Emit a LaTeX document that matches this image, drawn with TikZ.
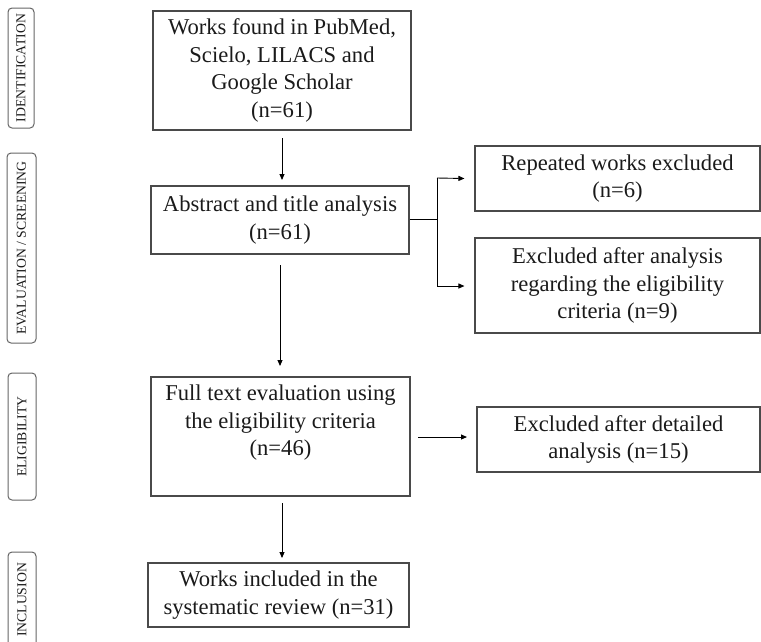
\documentclass[tikz,border=0pt]{standalone}
\usepackage{fontspec}
\setmainfont{Liberation Serif}
\usetikzlibrary{arrows.meta,calc}
\definecolor{boxline}{HTML}{4A4A4A}
\definecolor{txt}{HTML}{1A1A1A}
\tikzset{
  x=1pt,y=-1pt,
  flowbox/.style={draw=boxline,line width=1.1pt,rectangle,inner sep=0pt,align=center,
    text=txt,font=\fontsize{22.6}{27.5}\selectfont},
  plain/.style={inner sep=0pt,align=center,text=txt,font=\fontsize{22.6}{27.5}\selectfont},
  phasebox/.style={draw=boxline!85,line width=1pt,rounded corners=4pt,rectangle,inner sep=0pt},
  phasetext/.style={rotate=90,inner sep=0pt,text=txt,font=\fontsize{13.7}{15}\selectfont},
  conn/.style={draw=black,line width=0.9pt},
  arr/.style={conn,-{Triangle[length=6pt,width=5pt]}}
}
\begin{document}
\begin{tikzpicture}
\useasboundingbox (0,0) rectangle (761,641);
% phase labels
\node[phasebox,minimum width=26,minimum height=120] (p1) at (21,68) {};
\node[phasetext] (t1) at (p1.center) {IDENTIFICATION};
\node[phasebox,minimum width=29,minimum height=190] (p2) at (21.5,248) {};
\node[phasetext] (t2) at (p2.center) {EVALUATION / SCREENING};
\node[phasebox,minimum width=28,minimum height=127] (p3) at (22,436.5) {};
\node[phasetext] (t3) at (p3.center) {ELIGIBILITY};
\node[phasebox,minimum width=28,minimum height=110] (p4) at (22,607) {};
\node[phasetext] (t4) at (22,600) {INCLUSION};
% main boxes
\node[flowbox,minimum width=258,minimum height=119] (b1) at (282,70.5)
  {Works found in PubMed,\\Scielo, LILACS and\\Google Scholar\\(n=61)};
\node[flowbox,minimum width=258,minimum height=68] (b2) at (280,220)
  {Abstract and title analysis\\(n=61)};
\node[flowbox,minimum width=285,minimum height=65] (b3) at (617.5,178.5)
  {Repeated works excluded\\(n=6)};
\node[flowbox,minimum width=285,minimum height=95] (b4) at (617.5,285.5)
  {Excluded after analysis\\regarding the eligibility\\criteria (n=9)};
\node[flowbox,minimum width=259,minimum height=119] (b5) at (280.5,436.5) {};
\node[plain] (b5t) at (280.5,423)
  {Full text evaluation using\\the eligibility criteria\\(n=46)};
\node[flowbox,minimum width=283,minimum height=65] (b6) at (618.5,439.5)
  {Excluded after detailed\\analysis (n=15)};
\node[flowbox,minimum width=261,minimum height=64] (b7) at (278.5,595)
  {Works included in the\\systematic review (n=31)};
% connectors
\coordinate (j) at (437,219);
\draw[arr] (282,138) -- (282,180);
\draw[conn] (b2.east |- j) -- (j);
\draw[conn] (437,178) -- (437,286);
\draw[arr] (437,178) -- ($(b3.west)+(-10,0)$);
\draw[arr] (437,286) -- ($(b4.west |- 0,286)+(-10,0)$);
\draw[arr] (280,265) -- (280,366);
\draw[arr] (418,437) -- (467,437);
\draw[arr] (282,503) -- (282,558);
\end{tikzpicture}
\end{document}
